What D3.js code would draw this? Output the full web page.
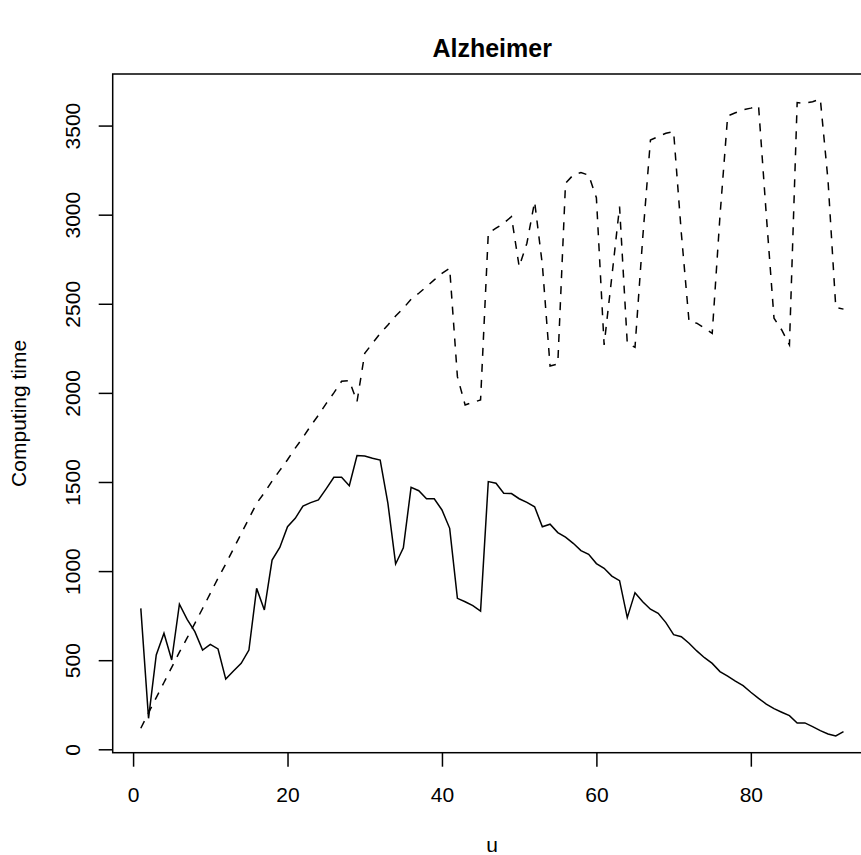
<!DOCTYPE html>
<html><head><meta charset="utf-8">
<script src="https://cdn.jsdelivr.net/npm/d3@7"></script>
<style>body{margin:0;background:#fff}svg{display:block}text{font-family:"Liberation Sans",Arial,Helvetica,sans-serif;fill:#000}</style>
</head><body>
<svg id="c" width="861" height="855"></svg>
<script>
const title = "Alzheimer";
const xLabel = "u";
const yLabel = "Computing time";
const xTicks = [0, 20, 40, 60, 80];
const yTicks = [0, 500, 1000, 1500, 2000, 2500, 3000, 3500];
// series A (solid)
const solid = [791,174,529,651,501,814,729,660,557,589,563,394,439,482,557,903,782,1062,1133,1249,
1296,1365,1384,1399,1461,1526,1526,1479,1648,1646,1633,1623,1380,1040,1131,1470,1451,1406,1406,1343,
1240,847,828,806,776,1502,1493,1437,1435,1406,1386,1361,1249,1263,1216,1190,1156,1115,1094,1042,
1016,972,946,739,879,828,786,763,711,643,632,595,552,514,482,436,411,383,357,320,
286,254,228,208,189,148,148,127,105,86,75,99];
// series B (dashed)
const dashed = [118,205,290,375,460,545,625,707,790,875,960,1040,1125,1210,1295,1380,1440,1505,1565,1625,
1690,1750,1815,1875,1940,2000,2065,2069,1951,2222,2278,2334,2381,2432,2475,2525,2559,2596,2634,2671,
2699,2091,1932,1947,1960,2896,2924,2952,2989,2708,2840,3073,2720,2151,2162,3176,3223,3236,3222,3095,
2269,2652,3045,2278,2256,2870,3419,3438,3457,3466,2896,2400,2391,2363,2334,2990,3554,3572,3588,3598,
3610,3000,2419,2353,2269,3629,3625,3634,3648,3190,2480,2470];

const svg = d3.select("#c");
const L = 112.7, T = 74, B = 752.7, R = 871.6;
const x = d3.scaleLinear().domain([-2.64, 95.64]).range([L, R]);
const y = d3.scaleLinear().domain([-19.1, 3789.4]).range([B, T]);

const line = d3.line().x((d, i) => x(i + 1)).y(d => y(d));
svg.append("path").attr("d", line(dashed)).attr("fill", "none").attr("stroke", "#000")
  .attr("stroke-width", 1.5).attr("stroke-dasharray", "8,8");
svg.append("path").attr("d", line(solid)).attr("fill", "none").attr("stroke", "#000")
  .attr("stroke-width", 1.5);

// box
svg.append("rect").attr("x", L).attr("y", T).attr("width", R - L).attr("height", B - T)
  .attr("fill", "none").attr("stroke", "#000").attr("stroke-width", 1.5);

// axes
const gx = svg.append("g").attr("transform", `translate(0,${B})`)
  .call(d3.axisBottom(x).tickValues(xTicks).tickSize(14).tickPadding(0).tickFormat(d3.format("d")));
gx.select(".domain").remove();
gx.selectAll("line").attr("stroke", "#000").attr("stroke-width", 1.5);
gx.selectAll("text").attr("font-size", 21).attr("dy", null).attr("y", 49.5).attr("fill", "#000");

const gy = svg.append("g").attr("transform", `translate(${L},0)`)
  .call(d3.axisLeft(y).tickValues(yTicks).tickSize(14).tickFormat(d3.format("d")));
gy.select(".domain").remove();
gy.selectAll("line").attr("stroke", "#000").attr("stroke-width", 1.5);
gy.selectAll("text").attr("font-size", 21).attr("x", null).attr("dy", null)
  .attr("text-anchor", "middle").attr("transform", "translate(-33,0) rotate(-90)").attr("fill", "#000");

svg.append("text").attr("x", (L + R) / 2).attr("y", 57).attr("text-anchor", "middle")
  .attr("font-size", 25).attr("font-weight", "bold").text(title);
svg.append("text").attr("x", (L + R) / 2).attr("y", 852).attr("text-anchor", "middle")
  .attr("font-size", 21).text(xLabel);
svg.append("text").attr("transform", `translate(26,${(T + B) / 2}) rotate(-90)`)
  .attr("text-anchor", "middle").attr("font-size", 21).text(yLabel);
</script>
</body></html>
